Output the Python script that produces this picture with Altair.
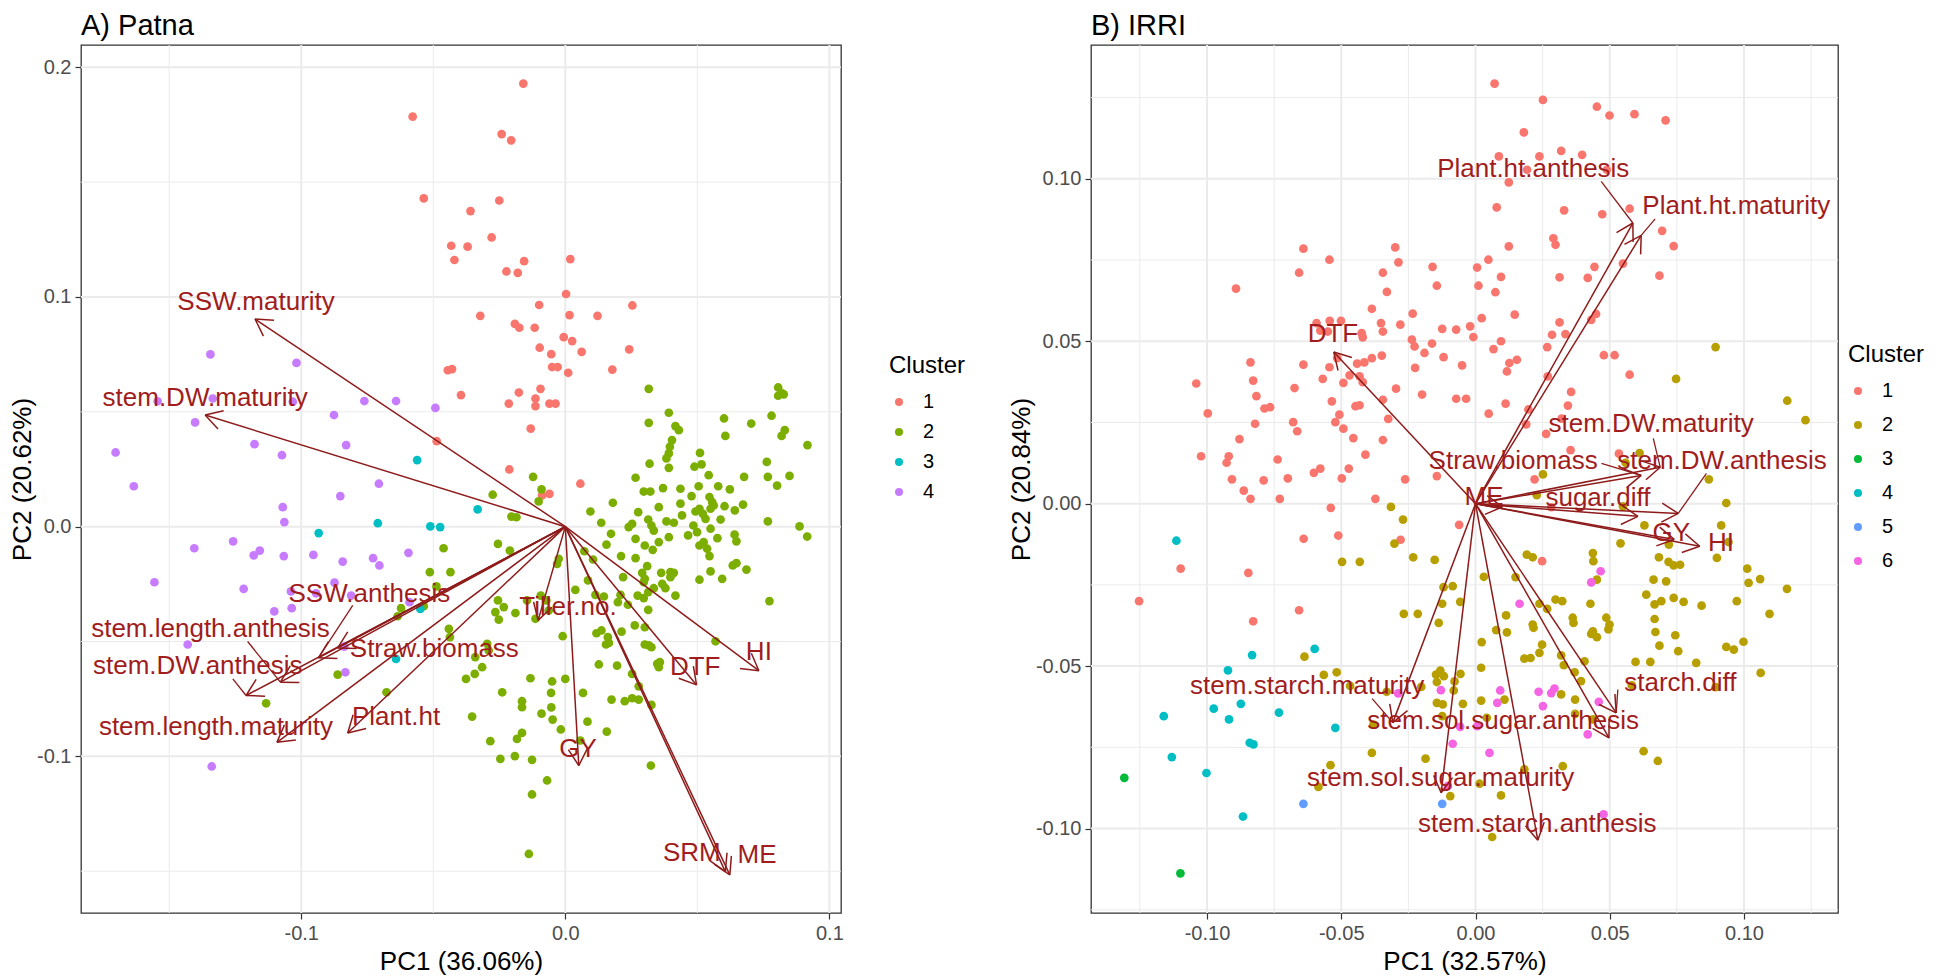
import math
import altair as alt
import pandas as pd

FONT = "Liberation Sans"
TXT = "#A11D1D"
ARW = "#8E1B1B"

# ---------------- Panel A (Patna) ----------------
a_c1 = [(-0.0578,0.1785),(-0.0536,0.1429),(-0.0432,0.1223),(-0.0420,0.1161),(-0.0445,0.0681),(-0.0429,0.0686),
        (-0.0395,0.0573),(-0.0487,0.0372),(-0.0159,0.1929),(-0.0241,0.1709),(-0.0205,0.1682),(-0.0250,0.1420),
        (-0.0359,0.1374),(-0.0279,0.1259),(-0.0370,0.1219),(-0.0156,0.1156),(-0.0223,0.1111),(-0.0180,0.1105),
        (0.0019,0.1165),(0.0003,0.1013),(-0.0099,0.0965),(-0.0322,0.0918),(0.0016,0.0921),(0.0122,0.0918),
        (0.0254,0.0963),(-0.0191,0.0883),(-0.0174,0.0866),(-0.0116,0.0866),(-0.0006,0.0825),(0.0026,0.0808),
        (-0.0097,0.0779),(-0.0053,0.0751),(0.0062,0.0761),(0.0242,0.0772),(-0.0050,0.0695),(-0.0029,0.0695),
        (0.0011,0.0670),(0.0178,0.0684),(-0.0094,0.0600),(-0.0176,0.0584),(-0.0214,0.0536),(-0.0113,0.0558),
        (-0.0113,0.0525),(-0.0060,0.0536),(-0.0037,0.0536),(-0.0131,0.0427),(-0.0212,0.0249),(-0.0088,0.0136),
        (-0.0060,0.0143),(0.0057,0.0187)]
a_c2 = [(0.0316,0.0600),(0.0806,0.0606),(0.0821,0.0580),(0.0806,0.0570),(0.0827,0.0576),(0.0392,0.0496),
        (0.0316,0.0452),(0.0417,0.0438),(0.0430,0.0420),(0.0601,0.0471),(0.0704,0.0449),(0.0781,0.0483),
        (0.0831,0.0420),(0.0819,0.0395),(0.0606,0.0395),(0.0917,0.0355),(0.0404,0.0377),(0.0396,0.0348),
        (0.0392,0.0319),(0.0383,0.0297),(0.0510,0.0321),(0.0489,0.0261),(0.0516,0.0271),(0.0319,0.0274),
        (0.0392,0.0256),(0.0763,0.0282),(0.0543,0.0224),(-0.0122,0.0217),(0.0266,0.0213),(0.0677,0.0217),
        (0.0767,0.0217),(0.0849,0.0221),(0.0297,0.0153),(0.0322,0.0153),(0.0370,0.0168),(0.0436,0.0165),
        (0.0505,0.0176),(0.0579,0.0176),(0.0623,0.0162),(0.0802,0.0179),(-0.0090,0.0162),(-0.0101,0.0110),
        (-0.0275,0.0139),(-0.0204,0.0044),(-0.0185,0.0041),(-0.0255,-0.0075),(-0.0210,-0.0104),
        (0.0180,0.0104),(0.0095,0.0066),(0.0136,0.0017),(0.0240,-0.0002),(0.0253,0.0012),(0.0276,0.0063),
        (0.0314,0.0031),(0.0326,0.0005),(0.0335,-0.0017),(0.0354,0.0085),(0.0383,0.0023),(0.0411,0.0017),
        (0.0436,0.0100),(0.0442,0.0049),(0.0478,0.0133),(0.0493,0.0066),(0.0508,0.0078),(0.0521,0.0056),
        (0.0531,0.0034),(0.0546,0.0129),(0.0556,0.0107),(0.0550,0.0078),(0.0562,0.0092),(0.0603,0.0089),
        (0.0642,0.0071),(0.0673,0.0096),(0.0588,0.0031),(0.0485,0.0005),(0.0499,-0.0024),(0.0550,-0.0009),
        (0.0767,0.0023),(0.0887,0.0001),(0.0916,-0.0043),(0.0173,-0.0031),(0.0156,-0.0078),(0.0266,-0.0053),
        (0.0301,-0.0082),(0.0331,-0.0101),(0.0354,-0.0067),(0.0392,-0.0046),(0.0465,-0.0038),(0.0508,-0.0082),
        (0.0524,-0.0067),(0.0537,-0.0096),(0.0546,-0.0128),(0.0576,-0.0050),(0.0641,-0.0035),(0.0648,-0.0064),
        (0.0072,-0.0107),(0.0105,-0.0143),(0.0211,-0.0128),(0.0266,-0.0137),(-0.0025,-0.0140),(-0.0031,-0.0162),
        (0.0310,-0.0172),(0.0291,-0.0201),(0.0301,-0.0227),(0.0297,-0.0242),(0.0363,-0.0201),(0.0398,-0.0198),
        (0.0411,-0.0201),(0.0398,-0.0220),(0.0550,-0.0195),(0.0594,-0.0227),(0.0634,-0.0169),(0.0648,-0.0159),
        (0.0686,-0.0187),(0.0508,-0.0231),(0.0219,-0.0220),(0.0086,-0.0234),(0.0038,-0.0275),(0.0114,-0.0297),
        (0.0146,-0.0304),(0.0209,-0.0297),(0.0274,-0.0300),(0.0297,-0.0311),(0.0314,-0.0285),(0.0335,-0.0268),
        (0.0367,-0.0249),(0.0379,-0.0268),(0.0417,-0.0300),(0.0237,-0.0340),(0.0199,-0.0329),(0.0314,-0.0362),
        (-0.0093,-0.0300),(-0.0072,-0.0321),(-0.0255,-0.0321),(-0.0233,-0.0350),(-0.0265,-0.0372),
        (-0.0252,-0.0405),(-0.0189,-0.0376),(-0.0145,-0.0321),(-0.0113,-0.0401),(-0.0063,-0.0365),
        (-0.0010,-0.0477),(0.0118,-0.0464),(0.0137,-0.0452),(0.0161,-0.0481),(0.0154,-0.0513),(0.0165,-0.0506),
        (0.0213,-0.0457),(0.0263,-0.0430),(0.0301,-0.0438),(0.0301,-0.0513),(0.0316,-0.0517),(0.0326,-0.0525),
        (0.0348,-0.0597),(0.0354,-0.0612),(0.0358,-0.0590),(0.0569,-0.0499),(0.0773,-0.0324),(-0.0296,-0.0510),
        (-0.0290,-0.0539),(-0.0341,-0.0568),(-0.0315,-0.0612),(-0.0343,-0.0641),(-0.0376,-0.0663),
        (0.0127,-0.0600),(0.0196,-0.0605),(0.0253,-0.0641),(0.0278,-0.0695),(-0.0132,-0.0660),(-0.0050,-0.0674),
        (-0.0054,-0.0724),(-0.0053,-0.0787),(0.0000,-0.0663),(0.0067,-0.0724),(-0.0239,-0.0721),
        (-0.0164,-0.0760),(-0.0164,-0.0786),(-0.0090,-0.0814),(-0.0048,-0.0840),(0.0175,-0.0753),
        (0.0225,-0.0760),(0.0253,-0.0747),(0.0278,-0.0753),(0.0326,-0.0776),(-0.0353,-0.0827),
        (-0.0017,-0.0883),(0.0084,-0.0849),(0.0157,-0.0892),(-0.0164,-0.0898),(-0.0183,-0.0924),
        (-0.0284,-0.0934),(0.0057,-0.0931),(-0.0246,-0.1011),(-0.0191,-0.0999),(-0.0126,-0.1015),
        (-0.0069,-0.1105),(-0.0126,-0.1166),(0.0324,-0.1040),(-0.0138,-0.1425),
        (-0.0461,-0.0094),(-0.0513,-0.0198),(-0.0435,-0.0198),(-0.0488,-0.0260),(-0.0622,-0.0355),
        (-0.0635,-0.0390),(-0.0536,-0.0346),(-0.0441,-0.0445),(-0.0437,-0.0481),(-0.0862,-0.0644),
        (-0.0677,-0.0721),(-0.1133,-0.0769)]
a_c3 = [(-0.0561,0.0290),(-0.0934,-0.0028),(-0.0710,0.0015),(-0.0511,0.0001),(-0.0474,-0.0002),
        (-0.0549,-0.0358),(-0.0641,-0.0576),(-0.0332,0.0075)]
a_c4 = [(-0.1344,0.0750),(-0.1018,0.0713),(-0.1544,0.0546),(-0.1335,0.0558),(-0.1032,0.0544),(-0.0761,0.0547),
        (-0.0641,0.0547),(-0.0492,0.0517),(-0.1402,0.0454),(-0.0876,0.0486),(-0.1703,0.0323),(-0.1177,0.0359),
        (-0.1073,0.0311),(-0.0830,0.0355),(-0.1634,0.0176),(-0.0706,0.0187),(-0.0852,0.0133),(-0.1070,0.0085),
        (-0.1064,0.0020),(-0.1405,-0.0094),(-0.1258,-0.0064),(-0.1180,-0.0125),(-0.1157,-0.0104),
        (-0.1066,-0.0128),(-0.0954,-0.0123),(-0.0843,-0.0152),(-0.0728,-0.0137),(-0.0704,-0.0169),
        (-0.0594,-0.0114),(-0.1556,-0.0242),(-0.1218,-0.0271),(-0.1039,-0.0282),(-0.0944,-0.0290),
        (-0.0874,-0.0244),(-0.0811,-0.0300),(-0.1102,-0.0369),(-0.1036,-0.0355),(-0.0590,-0.0329),
        (-0.1430,-0.0513),(-0.0837,-0.0522),(-0.0833,-0.0634),(-0.1339,-0.1044)]

a_vars  = ["SSW.maturity","stem.DW.maturity","SSW.anthesis","Straw.biomass","stem.length.anthesis",
           "stem.DW.anthesis","stem.length.maturity","Plant.ht","Tiller.no.","GY","DTF","HI","SRM","ME"]
a_tip_x = [-0.1175,-0.1364,-0.0935,-0.0862,-0.1079,-0.1209,-0.1092,-0.0824,-0.0103,0.0051,0.0497,0.0733,0.0606,0.0623]
a_tip_y = [0.0904,0.0486,-0.0571,-0.0528,-0.0677,-0.0735,-0.0939,-0.0898,-0.0408,-0.1040,-0.0689,-0.0627,-0.1502,-0.1516]
a_lab_x = [-0.1171,-0.1364,-0.0742,-0.0496,-0.1344,-0.1392,-0.1323,-0.0641,0.0010,0.0048,0.0492,0.0733,0.0479,0.0726]
a_lab_y = [0.0979,0.0558,-0.0293,-0.0532,-0.0445,-0.0605,-0.0873,-0.0830,-0.0351,-0.0968,-0.0612,-0.0547,-0.1421,-0.1428]
a_lead_x = [None,None,-0.0805,None,-0.1203,-0.1259,None,None,None,None,None,None,None,None]
a_lead_y = [None,None,-0.0343,None,-0.0500,-0.0663,None,None,None,None,None,None,None,None]

# ---------------- Panel B (IRRI) ----------------
b_c1 = [(-0.0641,0.0785),(-0.0544,0.0751),(-0.0657,0.0711),(-0.0299,0.0789),(-0.0287,0.0743),(-0.0160,0.0729),
        (-0.0144,0.0671),(-0.0892,0.0662),(-0.0345,0.0711),(-0.0330,0.0652),(-0.0386,0.0600),(-0.0234,0.0585),
        (-0.0592,0.0556),(-0.0543,0.0563),(-0.0501,0.0563),(-0.0578,0.0533),(-0.0550,0.0530),(-0.0424,0.0525),
        (-0.0420,0.0512),(-0.0352,0.0556),(-0.0345,0.0530),(-0.0280,0.0551),(-0.0124,0.0538),(-0.0072,0.0536),
        (-0.0237,0.0505),(-0.0227,0.0484),(-0.0190,0.0464),(-0.0162,0.0493),(-0.0119,0.0451),(-0.0050,0.0426),
        (-0.0838,0.0435),(-0.0641,0.0428),(-0.0544,0.0420),(-0.0515,0.0448),(-0.0441,0.0431),(-0.0414,0.0435),
        (-0.0386,0.0448),(-0.0349,0.0456),(-0.0225,0.0418),(-0.1040,0.0370),(-0.0828,0.0379),(-0.0674,0.0356),
        (-0.0569,0.0384),(-0.0492,0.0372),(-0.0469,0.0395),(-0.0432,0.0392),(-0.0420,0.0374),(-0.0296,0.0354),
        (-0.0199,0.0336),(-0.0072,0.0323),(-0.0035,0.0323),(-0.0816,0.0331),(-0.0786,0.0293),(-0.0765,0.0297),
        (-0.0997,0.0278),(-0.0535,0.0315),(-0.0507,0.0274),(-0.0522,0.0251),(-0.0447,0.0300),(-0.0432,0.0303),
        (-0.0345,0.0320),(-0.0325,0.0261),(-0.0821,0.0246),(-0.0679,0.0251),(-0.0664,0.0223),(-0.0492,0.0231),
        (-0.0455,0.0202),(-0.0345,0.0196),(-0.0879,0.0199),(-0.1022,0.0146),(-0.0919,0.0146),(-0.0927,0.0126),
        (-0.0737,0.0136),(-0.0410,0.0151),(-0.0602,0.0095),(-0.0578,0.0108),(-0.0472,0.0108),(-0.0144,0.0085),
        (-0.0907,0.0075),(-0.0789,0.0072),(-0.0699,0.0078),(-0.0498,0.0078),(-0.0262,0.0075),
        (0.0071,0.1293),(0.0251,0.1243),(0.0452,0.1222),(0.0499,0.1195),(0.0592,0.1199),(0.0708,0.1180),
        (0.0180,0.1143),(0.0087,0.1069),(0.0238,0.1069),(0.0319,0.1086),(0.0397,0.1074),(0.0192,0.1028),
        (0.0124,0.0989),(0.0489,0.1028),(0.0079,0.0912),(0.0330,0.0903),(0.0472,0.0891),(0.0574,0.0908),
        (0.0695,0.0840),(0.0738,0.0793),(0.0290,0.0817),(0.0298,0.0797),(0.0124,0.0792),(0.0048,0.0751),
        (0.0006,0.0727),(0.0011,0.0671),(0.0095,0.0698),(0.0074,0.0651),(0.0313,0.0697),(0.0418,0.0695),
        (0.0443,0.0729),(0.0549,0.0739),(0.0685,0.0702),(0.0146,0.0582),(0.0023,0.0571),(-0.0020,0.0546),
        (-0.0008,0.0513),(0.0313,0.0558),(0.0431,0.0566),(0.0449,0.0584),(0.0285,0.0520),(0.0335,0.0522),
        (0.0095,0.0500),(0.0067,0.0476),(0.0267,0.0482),(0.0478,0.0457),(0.0518,0.0457),(0.0154,0.0443),
        (0.0126,0.0433),(0.0117,0.0407),(0.0269,0.0392),(0.0574,0.0397),(0.0356,0.0344),(0.0344,0.0302),
        (0.0112,0.0308),(0.0049,0.0277),(0.0197,0.0290),(0.0189,0.0244),(0.0321,0.0262),(0.0263,0.0215),
        (0.0354,0.0165),(0.0534,0.0154),(0.0220,0.0075),
        (-0.0863,0.0040),(-0.0838,0.0015),(-0.0729,0.0015),(-0.0373,0.0015),(-0.0539,-0.0013),(-0.0511,-0.0098),
        (-0.0640,-0.0108),(-0.0279,-0.0111),(-0.0061,-0.0065),(-0.1098,-0.0200),(-0.0846,-0.0213),
        (-0.1253,-0.0300),(-0.0657,-0.0328),(-0.0828,-0.0362),(0.0248,-0.0177),(0.0282,-0.0011)]
b_c2 = [(0.0894,0.0482),(0.0747,0.0384),(0.1161,0.0317),(0.1229,0.0257),(0.0611,0.0156),(0.0559,0.0126),
        (0.0251,0.0090),(0.0869,0.0075),
        (-0.0315,-0.0010),(-0.0270,-0.0049),(-0.0302,-0.0123),(-0.0497,-0.0179),(-0.0431,-0.0179),
        (-0.0232,-0.0165),(-0.0152,-0.0173),(-0.0119,-0.0257),(-0.0085,-0.0254),(-0.0124,-0.0308),
        (-0.0057,-0.0302),(-0.0267,-0.0339),(-0.0215,-0.0339),(-0.0137,-0.0367),(-0.0637,-0.0471),
        (-0.0565,-0.0527),(-0.0517,-0.0519),(-0.0467,-0.0561),(-0.0331,-0.0579),(-0.0202,-0.0564),
        (-0.0147,-0.0526),(-0.0131,-0.0514),(-0.0118,-0.0531),(-0.0144,-0.0549),(-0.0056,-0.0524),
        (-0.0078,-0.0547),(-0.0081,-0.0575),(-0.0144,-0.0613),(-0.0122,-0.0618),(-0.0047,-0.0616),
        (-0.0124,-0.0654),(-0.0380,-0.0680),(-0.0386,-0.0767),(-0.0186,-0.0785),(-0.0540,-0.0805),
        (-0.0585,-0.0872),(-0.0094,-0.0900),
        (0.0228,0.0026),(0.0549,-0.0008),(0.0934,0.0002),(0.0629,-0.0067),(0.0915,-0.0067),(0.0540,-0.0122),
        (0.0720,-0.0126),(0.0942,-0.0118),(0.0899,-0.0167),(0.0191,-0.0157),(0.0213,-0.0165),(0.0437,-0.0152),
        (0.0439,-0.0177),(0.0683,-0.0165),(0.0719,-0.0179),(0.0738,-0.0190),(0.0762,-0.0188),(0.0031,-0.0225),
        (0.0149,-0.0226),(0.0452,-0.0234),(0.0663,-0.0234),(0.0710,-0.0239),(0.1012,-0.0200),(0.1017,-0.0244),
        (0.1060,-0.0232),(0.1160,-0.0262),(0.0238,-0.0308),(0.0267,-0.0324),(0.0298,-0.0295),(0.0323,-0.0300),
        (0.0428,-0.0308),(0.0636,-0.0280),(0.0667,-0.0310),(0.0692,-0.0300),(0.0738,-0.0290),(0.0775,-0.0302),
        (0.0842,-0.0314),(0.0973,-0.0300),(0.1095,-0.0339),(0.0114,-0.0344),(0.0362,-0.0351),(0.0365,-0.0367),
        (0.0487,-0.0351),(0.0499,-0.0372),(0.0495,-0.0387),(0.0667,-0.0355),(0.0213,-0.0372),(0.0216,-0.0382),
        (0.0077,-0.0389),(0.0117,-0.0396),(0.0437,-0.0393),(0.0431,-0.0401),(0.0452,-0.0411),(0.0670,-0.0395),
        (0.0744,-0.0405),(0.0023,-0.0426),(0.0248,-0.0434),(0.0685,-0.0437),(0.0755,-0.0454),(0.0934,-0.0441),
        (0.0962,-0.0449),(0.0998,-0.0425),(0.0238,-0.0459),(0.0182,-0.0477),(0.0205,-0.0475),(0.0319,-0.0467),
        (0.0406,-0.0485),(0.0596,-0.0487),(0.0651,-0.0487),(0.0822,-0.0490),(0.0329,-0.0497),(0.0021,-0.0505),
        (0.1062,-0.0521),(0.0369,-0.0519),(0.0393,-0.0546),(0.0582,-0.0559),(0.0894,-0.0565),(0.0108,-0.0603),
        (0.0021,-0.0606),(0.0319,-0.0587),(0.0371,-0.0603),(0.0371,-0.0647),(0.0437,-0.0664),(0.0042,-0.0659),
        (0.0626,-0.0762),(0.0679,-0.0792),(0.0182,-0.0818),(0.0325,-0.0808),(0.0015,-0.0862),(0.0095,-0.0898),
        (0.0062,-0.1026)]
b_c3 = [(-0.1308,-0.0844),(-0.1099,-0.1138)]
b_c4 = [(-0.1114,-0.0114),(-0.0832,-0.0466),(-0.0599,-0.0447),(-0.0922,-0.0513),(-0.0975,-0.0631),
        (-0.0874,-0.0616),(-0.1161,-0.0654),(-0.0918,-0.0664),(-0.0732,-0.0643),(-0.0522,-0.0690),
        (-0.0841,-0.0736),(-0.0827,-0.0741),(-0.1131,-0.0780),(-0.1002,-0.0829),(-0.0866,-0.0963)]
b_c5 = [(-0.0641,-0.0924),(-0.0124,-0.0924)]
b_c6 = [(-0.0288,-0.0584),(-0.0129,-0.0574),(-0.0057,-0.0687),(-0.0085,-0.0739),(-0.0103,-0.0869),
        (0.0466,-0.0208),(0.0431,-0.0242),(0.0164,-0.0308),(0.0092,-0.0575),(0.0235,-0.0579),(0.0294,-0.0569),
        (0.0282,-0.0583),(0.0081,-0.0613),(0.0251,-0.0623),(0.0459,-0.0610),(0.0006,-0.0685),(0.0418,-0.0710),
        (0.0052,-0.0767),(0.0477,-0.0956)]

b_vars  = ["Plant.ht.anthesis","Plant.ht.maturity","DTF","stem.DW.maturity","Straw.biomass","stem.DW.anthesis",
           "ME","sugar.diff","GY","HI","starch.diff","stem.sol.sugar.anthesis","stem.starch.maturity",
           "stem.sol.sugar.maturity","stem.starch.anthesis"]
b_tip_x = [0.0586,0.0617,-0.0528,0.0688,0.0617,0.0755,0.0100,0.0605,0.0740,0.0835,0.0524,0.0497,-0.0308,-0.0128,0.0232]
b_tip_y = [0.0864,0.0826,0.0467,0.0112,0.0087,-0.0030,-0.0010,-0.0039,-0.0110,-0.0131,-0.0644,-0.0721,-0.0674,-0.0890,-0.1036]
b_lab_x = [0.0215,0.0971,-0.0531,0.0654,0.0140,0.0918,0.0032,0.0456,0.0729,0.0914,0.0763,0.0103,-0.0627,-0.0130,0.0230]
b_lab_y = [0.1029,0.0915,0.0523,0.0244,0.0132,0.0132,0.0022,0.0017,-0.0090,-0.0121,-0.0552,-0.0669,-0.0562,-0.0844,-0.0985]
b_lead_x = [0.0468,0.0669,None,0.0662,0.0469,0.0860,None,None,None,None,0.0530,None,-0.0385,None,None]
b_lead_y = [0.0992,0.0877,None,0.0201,0.0124,0.0093,None,None,None,None,-0.0572,None,-0.0600,None,None]

PAL4 = ["#F8766D", "#7CAE00", "#00BFC4", "#C77CFF"]
PAL6 = ["#F8766D", "#B79F00", "#00BA38", "#00BFC4", "#619CFF", "#F564E3"]


def panel(title, clusters, palette, names, tx, ty, lx, ly, ldx, ldy, xdom, ydom, W, H,
          xmajor, xminor, ymajor, yminor, fmt, xtitle, ytitle, legx, legy, rowpad):
    rows = []
    for i, pts in enumerate(clusters):
        for (px, py) in pts:
            rows.append({"x": px, "y": py, "Cluster": str(i + 1)})
    pts_df = pd.DataFrame(rows)

    xs = alt.Scale(domain=xdom, nice=False, zero=False)
    ys = alt.Scale(domain=ydom, nice=False, zero=False)
    expr = "replace(format(datum.value, '" + fmt + "'), '\u2212', '-')"
    common = dict(grid=False, domain=False, tickColor="#333333", tickSize=6, tickWidth=1.2,
                  labelColor="#4D4D4D", labelFontSize=20, titleFontSize=26, titleColor="black",
                  titleFontWeight="normal", labelExpr=expr, labelPadding=4, labelFont=FONT, titleFont=FONT)
    xaxis = alt.Axis(values=xmajor, title=xtitle, titlePadding=5, **common)
    yaxis = alt.Axis(values=ymajor, title=ytitle, titlePadding=1, **common)

    def X(f="x"):
        return alt.X(f + ":Q", scale=xs, axis=xaxis)

    def Y(f="y"):
        return alt.Y(f + ":Q", scale=ys, axis=yaxis)

    gvmin = alt.Chart(pd.DataFrame({"x": xminor})).mark_rule(color="#EBEBEB", strokeWidth=1).encode(x=X())
    gvmaj = alt.Chart(pd.DataFrame({"x": xmajor})).mark_rule(color="#EBEBEB", strokeWidth=2).encode(x=X())
    ghmin = alt.Chart(pd.DataFrame({"y": yminor})).mark_rule(color="#EBEBEB", strokeWidth=1).encode(y=Y())
    ghmaj = alt.Chart(pd.DataFrame({"y": ymajor})).mark_rule(color="#EBEBEB", strokeWidth=2).encode(y=Y())

    doms = [str(i + 1) for i in range(len(clusters))]
    points = alt.Chart(pts_df).mark_circle(size=76, opacity=1).encode(
        x=X(), y=Y(),
        color=alt.Color("Cluster:N", scale=alt.Scale(domain=doms, range=palette),
                        legend=alt.Legend(title="Cluster", orient="none", legendX=legx, legendY=legy,
                                          titleFontSize=24, titleFontWeight="normal", titleColor="black",
                                          labelFontSize=20, labelColor="black", symbolSize=64,
                                          symbolType="circle", rowPadding=rowpad, titlePadding=14,
                                          labelOffset=14, titleFont=FONT, labelFont=FONT)))

    n = len(names)
    arr_df = pd.DataFrame({"x": [0.0] * n, "y": [0.0] * n, "x2": tx, "y2": ty})
    arrows = alt.Chart(arr_df).mark_rule(color=ARW, strokeWidth=1.5).encode(
        x=X(), y=Y(), x2="x2:Q", y2="y2:Q")

    # arrow heads: two wings of 19 px at 30 degrees, derived from the tip positions
    sx = W / (xdom[1] - xdom[0])
    sy = H / (ydom[1] - ydom[0])
    hx, hy, hx2, hy2 = [], [], [], []
    for x, y in zip(tx, ty):
        px, py = x * sx, y * sy
        L = math.hypot(px, py)
        ux, uy = -px / L, -py / L
        for a in (math.radians(30), math.radians(-30)):
            wx = ux * math.cos(a) - uy * math.sin(a)
            wy = ux * math.sin(a) + uy * math.cos(a)
            hx.append(x); hy.append(y)
            hx2.append(x + 19 * wx / sx); hy2.append(y + 19 * wy / sy)
    heads = alt.Chart(pd.DataFrame({"x": hx, "y": hy, "x2": hx2, "y2": hy2})).mark_rule(
        color=ARW, strokeWidth=1.5).encode(x=X(), y=Y(), x2="x2:Q", y2="y2:Q")

    lead_rows = [{"x": a, "y": b, "x2": c, "y2": d} for a, b, c, d in zip(ldx, ldy, tx, ty) if a is not None]
    leaders = alt.Chart(pd.DataFrame(lead_rows)).mark_rule(color=ARW, strokeWidth=1.3).encode(
        x=X(), y=Y(), x2="x2:Q", y2="y2:Q")

    labels = alt.Chart(pd.DataFrame({"x": lx, "y": ly, "name": names})).mark_text(
        font=FONT, fontSize=26, color=TXT, align="center", baseline="middle").encode(
        x=X(), y=Y(), text="name:N")

    return alt.layer(gvmin, gvmaj, ghmin, ghmaj, points, arrows, heads, leaders, labels).properties(
        width=W, height=H,
        title=alt.TitleParams(title, anchor="start", frame="group", fontSize=29, fontWeight="normal",
                              color="black", font=FONT, offset=3))


A = panel("A) Patna", [a_c1, a_c2, a_c3, a_c4], PAL4, a_vars, a_tip_x, a_tip_y, a_lab_x, a_lab_y,
          a_lead_x, a_lead_y, [-0.1834, 0.1044], [-0.1682, 0.2097], 760, 868,
          [-0.1, 0.0, 0.1], [-0.15, -0.05, 0.05], [-0.1, 0.0, 0.1, 0.2], [-0.15, -0.05, 0.05, 0.15],
          ".1f", "PC1 (36.06%)", "PC2 (20.62%)", 808, 309, 10)
B = panel("B) IRRI", [b_c1, b_c2, b_c3, b_c4, b_c5, b_c6], PAL6, b_vars, b_tip_x, b_tip_y, b_lab_x, b_lab_y,
          b_lead_x, b_lead_y, [-0.1432, 0.1350], [-0.1260, 0.1412], 747, 868,
          [-0.10, -0.05, 0.0, 0.05, 0.10], [-0.125, -0.075, -0.025, 0.025, 0.075, 0.125],
          [-0.10, -0.05, 0.0, 0.05, 0.10], [-0.125, -0.075, -0.025, 0.025, 0.075, 0.125],
          ".2f", "PC1 (32.57%)", "PC2 (20.84%)", 757, 298, 14)

chart = alt.hconcat(A, B, spacing=40).resolve_scale(
    x="independent", y="independent", color="independent"
).properties(padding={"top": 3, "left": 0, "right": 0, "bottom": 0}).configure(
    font=FONT).configure_view(stroke="#333333", strokeWidth=1.3)

chart.save("out.html", embed_options={"renderer": "svg", "actions": False})
